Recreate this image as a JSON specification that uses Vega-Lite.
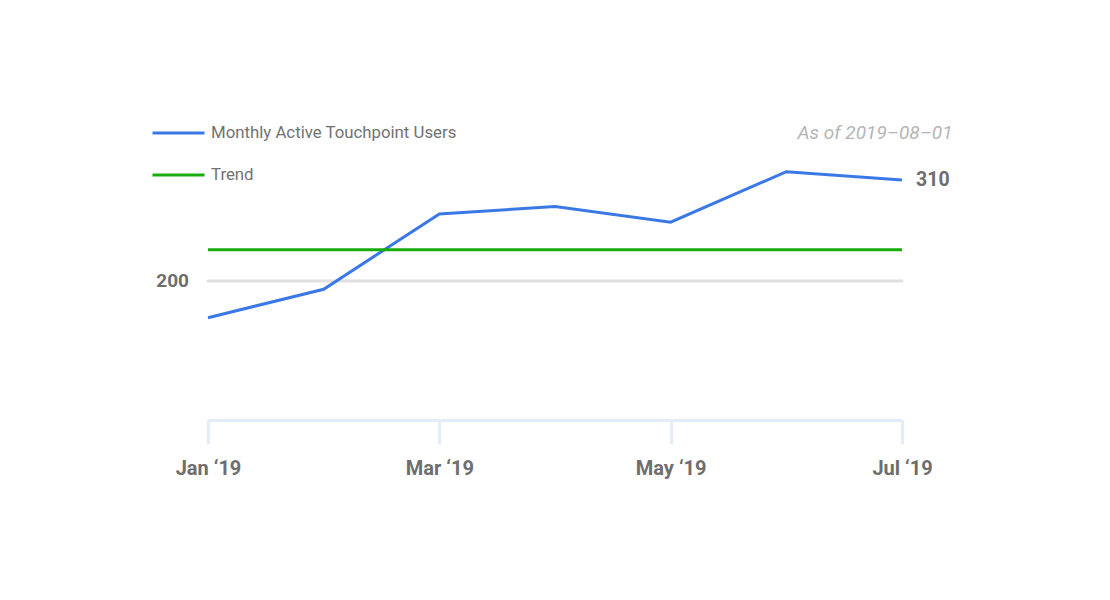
{
  "$schema": "https://vega.github.io/schema/vega-lite/v6.json",
  "width": 694,
  "height": 258.4,
  "autosize": "none",
  "padding": {"left": 208, "top": 161.6, "right": 208, "bottom": 180},
  "background": "white",
  "config": {"view": {"stroke": null}, "font": "Roboto"},
  "title": {"text": "As of 2019–08–01", "anchor": "end", "fontStyle": "italic", "fontWeight": "normal", "fontSize": 19, "color": "#b5b5b5", "dx": 3, "offset": -37, "font": "Roboto"},
  "datasets": {
    "series": [
      {"month": "Jan ‘19", "value": 160, "series": "Monthly Active Touchpoint Users"},
      {"month": "Feb ‘19", "value": 191, "series": "Monthly Active Touchpoint Users"},
      {"month": "Mar ‘19", "value": 273, "series": "Monthly Active Touchpoint Users"},
      {"month": "Apr ‘19", "value": 281, "series": "Monthly Active Touchpoint Users"},
      {"month": "May ‘19", "value": 264, "series": "Monthly Active Touchpoint Users"},
      {"month": "Jun ‘19", "value": 319, "series": "Monthly Active Touchpoint Users"},
      {"month": "Jul ‘19", "value": 310, "series": "Monthly Active Touchpoint Users"},
      {"month": "Jan ‘19", "value": 234, "series": "Trend"},
      {"month": "Jul ‘19", "value": 234, "series": "Trend"}
    ],
    "ref": [
      {"month": "Jan ‘19", "value": 200}
    ],
    "last": [
      {"month": "Jul ‘19", "value": 310}
    ]
  },
  "encoding": {
    "x": {
      "field": "month", "type": "ordinal",
      "sort": ["Jan ‘19", "Feb ‘19", "Mar ‘19", "Apr ‘19", "May ‘19", "Jun ‘19", "Jul ‘19"],
      "scale": {"type": "point", "padding": 0, "domain": ["Jan ‘19", "Feb ‘19", "Mar ‘19", "Apr ‘19", "May ‘19", "Jun ‘19", "Jul ‘19"]},
      "axis": {
        "title": null,
        "values": ["Jan ‘19", "Mar ‘19", "May ‘19", "Jul ‘19"],
        "labelAngle": 0,
        "domainColor": "#e3edf8", "domainWidth": 3,
        "tickColor": "#e3edf8", "tickWidth": 3, "tickSize": 24,
        "labelFontSize": 20, "labelFontWeight": "bold", "labelColor": "#6e6e6e",
        "labelPadding": 14, "labelFont": "Roboto", "grid": false
      }
    },
    "y": {"field": "value", "type": "quantitative", "scale": {"domain": [48.6, 330], "nice": false, "zero": false}, "axis": null}
  },
  "layer": [
    {
      "data": {"name": "ref"},
      "mark": {"type": "rule", "color": "#e0e0e0", "strokeWidth": 3, "strokeCap": "round"},
      "encoding": {"x": null, "y": {"field": "value", "type": "quantitative"}}
    },
    {
      "data": {"name": "ref"},
      "mark": {"type": "text", "align": "right", "baseline": "middle", "dx": -19, "fontSize": 19, "fontWeight": "bold", "color": "#6e6e6e", "font": "Roboto"},
      "encoding": {"text": {"field": "value", "type": "quantitative"}}
    },
    {
      "data": {"name": "series"},
      "mark": {"type": "line", "strokeWidth": 3},
      "encoding": {
        "color": {
          "field": "series", "type": "nominal",
          "scale": {"domain": ["Monthly Active Touchpoint Users", "Trend"], "range": ["#3a78e6", "#1aab0d"]},
          "legend": {
            "title": null, "orient": "none", "legendX": -57, "legendY": -56,
            "symbolType": "stroke", "symbolSize": 2704, "symbolStrokeWidth": 3,
            "labelFontSize": 16.8, "labelColor": "#727272", "labelFont": "Roboto",
            "labelOffset": 5, "rowPadding": 5, "labelLimit": 0
          }
        }
      }
    },
    {
      "data": {"name": "last"},
      "mark": {"type": "text", "align": "left", "baseline": "middle", "dx": 14, "fontSize": 19.5, "fontWeight": "bold", "color": "#6e6e6e", "font": "Roboto"},
      "encoding": {"text": {"field": "value", "type": "quantitative"}}
    }
  ]
}
